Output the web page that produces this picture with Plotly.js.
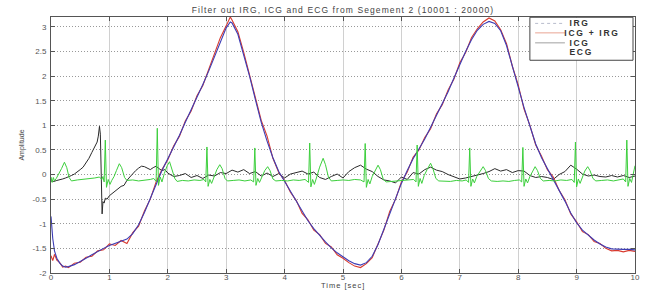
<!DOCTYPE html>
<html>
<head>
<meta charset="utf-8">
<script src="https://cdn.plot.ly/plotly-3.0.1.min.js"></script>
<style>
html,body{margin:0;padding:0;background:#fff;}
#chart{width:657px;height:290px;}
#chart .gtitle{letter-spacing:1.1px;}
#chart g.annotation[data-index="0"] text,
#chart g.annotation[data-index="1"] text,
#chart g.annotation[data-index="2"] text,
#chart g.annotation[data-index="3"] text{letter-spacing:1.7px;}
#chart g.annotation[data-index="4"] text{letter-spacing:1px;}
</style>
</head>
<body>
<div id="chart"></div>
<script>
// ---- series names ----
var seriesNames = ['IRG', 'ICG + IRG', 'ICG', 'ECG'];
var chartTitle = 'Filter out IRG, ICG and ECG from Segement 2 (10001 : 20000)';
var xTitle = 'Time [sec]';
var yTitle = 'Amplitude';

// ---- ICG and ICG+IRG (shared time base, seconds) ----
var icgTime = [0,0.03,0.06,0.1,0.15,0.2,0.25,0.3,
  0.4,0.5,0.6,0.7,0.8,0.9,1.0,1.1,1.2,1.3,1.4,1.5,1.6,1.7,1.8,1.9,2.0,2.1,2.2,2.3,2.4,2.5,2.6,2.7,2.8,2.9,3.0,
  3.07,
  3.1,3.2,3.3,3.4,3.5,3.6,3.7,3.8,3.9,4.0,4.1,4.2,4.3,4.4,4.5,4.6,4.7,4.8,4.9,5.0,
  5.1,5.2,5.3,5.4,5.5,5.6,5.7,5.8,5.9,6.0,6.1,6.2,6.3,6.4,6.5,6.6,6.7,6.8,6.9,7.0,
  7.1,7.2,7.3,7.4,7.5,7.6,7.7,7.8,7.9,8.0,8.1,8.2,8.3,8.4,8.5,8.6,8.7,8.8,8.9,9.0,
  9.1,9.2,9.3,9.4,9.5,9.6,9.7,9.8,9.9,10.0];
var icgValues = [-0.85,-1.30,-1.55,-1.70,-1.80,-1.86,-1.88,-1.87,
  -1.83,-1.77,-1.70,-1.63,-1.56,-1.50,-1.44,-1.40,-1.36,-1.31,-1.20,-1.02,-0.77,-0.48,-0.18,0.08,0.32,0.55,0.80,1.06,1.31,1.56,1.83,2.10,2.40,2.70,2.98,
  3.10,
  3.08,2.85,2.45,2.00,1.52,1.06,0.68,0.34,0.06,-0.14,-0.34,-0.55,-0.76,-0.94,-1.10,-1.24,-1.37,-1.49,-1.59,-1.67,
  -1.75,-1.81,-1.84,-1.79,-1.66,-1.42,-1.10,-0.78,-0.47,-0.18,0.08,0.32,0.52,0.72,0.96,1.20,1.44,1.68,1.96,2.24,
  2.50,2.74,2.93,3.05,3.11,3.07,2.92,2.62,2.22,1.78,1.36,0.97,0.62,0.34,0.12,-0.07,-0.30,-0.54,-0.78,-0.98,
  -1.13,-1.24,-1.33,-1.41,-1.47,-1.51,-1.52,-1.52,-1.52,-1.53];
var icgIrgValues = [-1.65,-1.75,-1.62,-1.74,-1.79,-1.88,-1.86,-1.89,
  -1.80,-1.78,-1.68,-1.66,-1.55,-1.53,-1.41,-1.44,-1.34,-1.40,-1.18,-1.05,-0.74,-0.50,-0.15,0.10,0.30,0.58,0.78,1.09,1.29,1.60,1.81,2.14,2.48,2.78,3.02,
  3.20,
  3.14,2.90,2.48,2.03,1.55,1.10,0.78,0.33,0.04,-0.12,-0.36,-0.53,-0.79,-0.92,-1.13,-1.22,-1.40,-1.47,-1.63,-1.70,
  -1.79,-1.86,-1.89,-1.81,-1.69,-1.40,-1.13,-0.75,-0.50,-0.15,0.05,0.35,0.50,0.75,0.93,1.23,1.42,1.72,1.94,2.27,
  2.48,2.78,2.96,3.10,3.18,3.12,2.94,2.66,2.20,1.82,1.33,1.00,0.60,0.37,0.10,-0.05,-0.32,-0.51,-0.80,-0.96,
  -1.16,-1.22,-1.36,-1.40,-1.50,-1.55,-1.54,-1.57,-1.54,-1.56];

// ---- IRG ----
var irgTime = [0,0.05,0.1,0.15,0.2,0.25,0.3,0.35,0.4,0.45,0.5,0.55,0.6,0.65,0.7,0.73,0.76,0.79,0.81,0.83,0.845,0.86,0.875,0.89,0.91,0.93,0.96,
  1.0,1.05,1.1,1.15,1.2,1.25,1.3,1.35,1.4,1.45,1.5,1.55,1.6,1.65,1.7,1.75,1.8,1.85,1.9,1.95,2.0,
  2.1,2.2,2.3,2.4,2.5,2.6,2.7,2.8,2.9,3.0,3.1,3.2,3.3,3.4,3.5,3.6,3.7,3.8,3.9,4.0,
  4.1,4.2,4.3,4.4,4.5,4.6,4.7,4.8,4.9,5.0,5.1,5.2,5.3,5.4,5.5,5.6,5.7,5.8,5.9,6.0,
  6.1,6.2,6.3,6.4,6.5,6.6,6.7,6.8,6.9,7.0,7.1,7.2,7.3,7.4,7.5,7.6,7.7,7.8,7.9,8.0,
  8.1,8.2,8.3,8.4,8.5,8.6,8.7,8.8,8.9,9.0,9.1,9.2,9.3,9.4,9.5,9.6,9.7,9.8,9.9,10.0];
var irgValues = [-0.13,-0.14,-0.12,-0.11,-0.09,-0.07,-0.05,-0.02,0.01,0.05,0.10,0.15,0.24,0.33,0.45,0.52,0.62,0.66,0.78,0.98,0.82,0.05,-0.80,-0.55,-0.58,-0.48,-0.50,
  -0.43,-0.38,-0.34,-0.30,-0.24,-0.22,-0.12,-0.05,0.02,0.08,0.13,0.17,0.16,0.13,0.10,0.14,0.17,0.12,0.08,0.10,0.03,
  -0.04,-0.02,0.02,-0.06,-0.02,-0.08,-0.01,-0.03,0.04,0.02,0.09,0.05,0.10,0.02,0.06,-0.03,0.03,-0.04,0.02,-0.07,
  0.01,0.04,0.07,0.01,0.05,-0.06,-0.10,-0.04,0.01,-0.07,0.06,0.14,0.19,0.11,0.06,-0.04,-0.11,-0.13,-0.17,-0.05,
  -0.10,0.04,0.01,0.10,0.15,0.09,0.06,0.00,-0.05,-0.09,-0.07,-0.04,-0.02,0.02,0.06,0.12,0.07,0.10,0.04,0.08,
  0.07,-0.02,-0.06,-0.04,-0.06,-0.10,0.00,0.06,0.19,0.11,0.01,-0.03,-0.01,-0.04,-0.05,-0.02,-0.05,-0.02,-0.06,-0.03];

// ---- ECG ----
var ecgTime = [0.00,0.02,0.04,0.06,0.09,0.13,0.18,0.23,0.27,0.31,0.35,0.45,0.55,0.65,0.75,0.83,0.87,0.89,0.91,
  0.93,0.95,0.98,1.01,1.04,1.08,1.12,1.17,1.21,1.26,1.30,1.40,1.50,1.60,1.70,1.76,1.80,
  1.82,1.84,1.87,1.90,1.94,1.99,2.03,2.07,2.12,2.16,2.25,2.35,2.45,2.55,2.62,2.65,
  2.67,2.69,2.72,2.75,2.79,2.84,2.89,2.93,2.98,3.02,3.12,3.22,3.32,3.42,3.47,
  3.49,3.51,3.54,3.57,3.61,3.66,3.71,3.75,3.80,3.85,3.95,4.05,4.15,4.25,4.35,4.41,
  4.43,4.45,4.48,4.51,4.55,4.60,4.66,4.70,4.75,4.80,4.90,5.00,5.10,5.20,5.30,5.36,
  5.38,5.40,5.43,5.46,5.50,5.55,5.60,5.64,5.69,5.74,5.84,5.94,6.04,6.14,6.21,6.25,
  6.27,6.29,6.32,6.35,6.39,6.44,6.50,6.54,6.59,6.64,6.74,6.84,6.94,7.04,7.11,7.15,
  7.17,7.19,7.22,7.25,7.29,7.34,7.40,7.44,7.49,7.54,7.64,7.74,7.84,7.94,8.02,8.06,
  8.08,8.10,8.13,8.16,8.20,8.25,8.29,8.33,8.38,8.43,8.53,8.63,8.73,8.83,8.92,8.96,
  8.98,9.00,9.03,9.06,9.10,9.14,9.19,9.23,9.28,9.33,9.43,9.53,9.63,9.73,9.80,9.84,
  9.86,9.88,9.91,9.94,9.97,10.00];
var ecgValues = [-0.05,-0.16,-0.06,-0.13,-0.08,0.00,0.12,0.25,0.14,-0.06,-0.13,-0.11,-0.10,-0.08,-0.07,-0.05,-0.10,-0.04,-0.15,
  0.70,-0.26,-0.10,-0.20,-0.12,-0.04,0.08,0.22,0.14,-0.06,-0.12,-0.11,-0.13,-0.12,-0.10,-0.08,-0.14,
  0.94,-0.22,-0.05,-0.15,0.02,0.18,0.26,0.12,-0.08,-0.14,-0.12,-0.13,-0.11,-0.12,-0.10,-0.15,
  0.56,-0.24,-0.10,-0.18,-0.06,0.10,0.20,0.12,-0.08,-0.13,-0.12,-0.11,-0.13,-0.11,-0.15,
  0.54,-0.22,-0.08,-0.16,-0.04,0.08,0.16,0.08,-0.09,-0.13,-0.12,-0.13,-0.11,-0.12,-0.10,-0.16,
  0.64,-0.25,-0.10,-0.20,-0.05,0.15,0.33,0.20,-0.05,-0.13,-0.12,-0.11,-0.12,-0.10,-0.11,-0.15,
  0.63,-0.26,-0.10,-0.19,-0.04,0.08,0.19,0.10,-0.10,-0.15,-0.14,-0.13,-0.12,-0.11,-0.10,-0.15,
  0.60,-0.24,-0.08,-0.18,-0.02,0.10,0.23,0.12,-0.08,-0.13,-0.13,-0.14,-0.12,-0.13,-0.11,-0.16,
  0.54,-0.24,-0.09,-0.17,-0.04,0.06,0.16,0.08,-0.08,-0.13,-0.14,-0.13,-0.14,-0.12,-0.11,-0.15,
  0.55,-0.24,-0.09,-0.17,-0.04,0.07,0.16,0.08,-0.08,-0.13,-0.12,-0.13,-0.11,-0.12,-0.10,-0.16,
  0.66,-0.25,-0.09,-0.18,-0.04,0.07,0.16,0.08,-0.08,-0.13,-0.12,-0.11,-0.13,-0.10,-0.09,-0.15,
  0.70,-0.24,-0.08,-0.16,0.05,0.18];

// ---- ticks ----
var xTickVals = [0,1,2,3,4,5,6,7,8,9,10];
var xTickText = ['0','1','2','3','4','5','6','7','8','9','10'];
var yTickVals = [-2,-1.5,-1,-0.5,0,0.5,1,1.5,2,2.5,3];
var yTickText = ['-2','-1.5','-1','-0.5','0','0.5','1','1.5','2','2.5','3'];

var colors = ['#2b2b2b', '#d83a2e', '#3d3db5', '#3ccf3c'];
var legendLineColors = ['#b8bccc', '#e9a494', '#a0a0a0', null];
var legendDash = ['dot', 'solid', 'solid', 'solid'];

var traces = [
  {x: irgTime, y: irgValues, name: seriesNames[0], type: 'scatter', mode: 'lines', line: {color: colors[0], width: 1}},
  {x: icgTime, y: icgIrgValues, name: seriesNames[1], type: 'scatter', mode: 'lines', line: {color: colors[1], width: 1.1}},
  {x: icgTime, y: icgValues, name: seriesNames[2], type: 'scatter', mode: 'lines', line: {color: colors[2], width: 1.1}},
  {x: ecgTime, y: ecgValues, name: seriesNames[3], type: 'scatter', mode: 'lines', line: {color: colors[3], width: 1}}
];

// manual MATLAB-style legend box (paper coordinates)
var shapes = [{type: 'rect', xref: 'paper', yref: 'paper', x0: 0.820, x1: 0.9966, y0: 0.831, y1: 0.999,
  fillcolor: '#ffffff', line: {color: '#444', width: 1}, layer: 'above'}];
var annotations = [];
var rowY = [0.975, 0.938, 0.899, 0.862];
for (var i = 0; i < seriesNames.length; i++) {
  if (legendLineColors[i]) {
    shapes.push({type: 'line', xref: 'paper', yref: 'paper', x0: 0.829, x1: 0.880, y0: rowY[i], y1: rowY[i],
      line: {color: legendLineColors[i], width: 1, dash: legendDash[i]}, layer: 'above'});
  }
  annotations.push({xref: 'paper', yref: 'paper', x: 0.889, y: rowY[i], xanchor: 'left', yanchor: 'middle',
    text: '<b>' + seriesNames[i] + '</b>', showarrow: false, font: {size: 8.5, color: '#333'}});
}
// x-axis title placed just under the tick labels
annotations.push({xref: 'paper', yref: 'paper', x: 0.5, y: 0, xanchor: 'center', yanchor: 'top', yshift: -6,
  text: xTitle, showarrow: false, font: {size: 7.5, color: '#444'}});

var layout = {
  width: 657, height: 290,
  margin: {l: 51, r: 22, t: 17, b: 17, pad: 0},
  paper_bgcolor: '#ffffff', plot_bgcolor: '#ffffff',
  font: {family: 'Liberation Sans, Arial, sans-serif', size: 8, color: '#444'},
  showlegend: false,
  title: {text: chartTitle, font: {size: 8.5, color: '#444'}, xref: 'paper', x: 0.5, xanchor: 'center',
    yref: 'container', y: 0.966, yanchor: 'middle'},
  xaxis: {range: [0, 10], tickvals: xTickVals, ticktext: xTickText, ticks: 'inside', ticklen: 4, tickcolor: '#555',
    showline: true, linecolor: '#555', linewidth: 1, mirror: 'ticks', showgrid: true, gridcolor: '#d0d0d0', gridwidth: 1,
    zeroline: false, tickfont: {size: 8, color: '#555'}, automargin: false, ticklabelstandoff: -4},
  yaxis: {range: [-2, 3.2], tickvals: yTickVals, ticktext: yTickText, ticks: 'inside', ticklen: 4, tickcolor: '#555',
    showline: true, linecolor: '#555', linewidth: 1, mirror: 'ticks', showgrid: true, gridcolor: '#999999', gridwidth: 1,
    griddash: '1px,2px', zeroline: false, tickfont: {size: 8, color: '#555'}, automargin: false, ticklabelstandoff: 2,
    title: {text: yTitle, font: {size: 7, color: '#444'}, standoff: 7}},
  shapes: shapes,
  annotations: annotations
};

Plotly.newPlot('chart', traces, layout, {displayModeBar: false, staticPlot: true});
</script>
</body>
</html>
